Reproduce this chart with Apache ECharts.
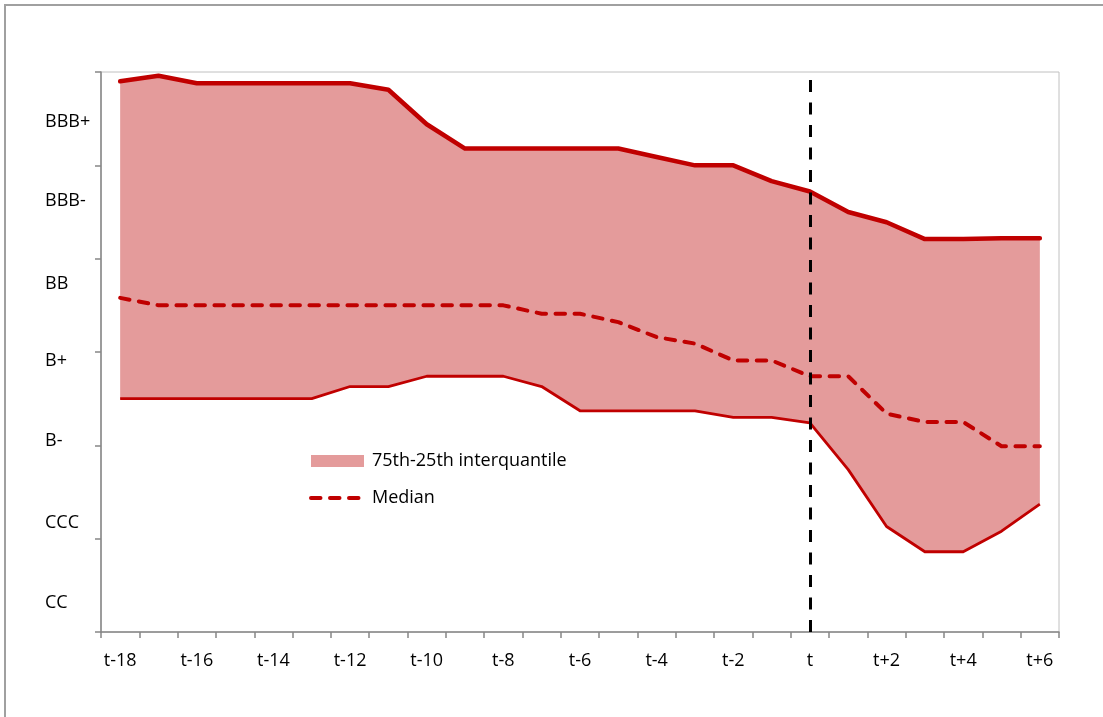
<!DOCTYPE html>
<html>
<head>
<meta charset="utf-8">
<script src="https://cdn.jsdelivr.net/npm/echarts@6/dist/echarts.min.js"></script>
<style>
  html, body { margin: 0; padding: 0; background: #fff; }
  #chart { width: 1103px; height: 717px; }
</style>
</head>
<body>
<div id="chart"></div>
<script>
// periods around the event t
const periods = ['t-18', 't-17', 't-16', 't-15', 't-14', 't-13', 't-12', 't-11', 't-10', 't-9',
  't-8', 't-7', 't-6', 't-5', 't-4', 't-3', 't-2', 't-1', 't', 't+1', 't+2', 't+3', 't+4', 't+5', 't+6']

// rating scale in axis units (0 = bottom, 6 = top tick)
const upperQ = [5.90, 5.96, 5.88, 5.88, 5.88, 5.88, 5.88, 5.81, 5.44, 5.18,
  5.18, 5.18, 5.18, 5.18, 5.09, 5.00, 5.00, 4.83, 4.72, 4.50, 4.39, 4.21, 4.21, 4.22, 4.22]
const medianQ = [3.58, 3.50, 3.50, 3.50, 3.50, 3.50, 3.50, 3.50, 3.50, 3.50,
  3.50, 3.41, 3.41, 3.32, 3.16, 3.09, 2.91, 2.91, 2.74, 2.74, 2.34, 2.25, 2.25, 1.99, 1.99]
const lowerQ = [2.50, 2.50, 2.50, 2.50, 2.50, 2.50, 2.63, 2.63, 2.74, 2.74,
  2.74, 2.63, 2.37, 2.37, 2.37, 2.37, 2.30, 2.30, 2.24, 1.74, 1.13, 0.86, 0.86, 1.08, 1.37]

// rating labels and where they sit on the axis
const ratingLabels = ['BBB+', 'BBB-', 'BB', 'B+', 'B-', 'CCC', 'CC']
const ratingPos = [5.47, 4.62, 3.73, 2.91, 2.05, 1.17, 0.31]

const bandName = '75th-25th interquantile'
const darkRed = '#C00000'
const pink = '#E49B9B'
const fontFamily = '"Open Sans", "Noto Sans", sans-serif'

const chart = echarts.init(document.getElementById('chart'))

const option = {
  animation: false,
  backgroundColor: '#fff',
  textStyle: { fontFamily: fontFamily },
  graphic: [{
    type: 'rect',
    silent: true,
    shape: { x: 5, y: 5, width: 1200, height: 800 },
    style: { fill: 'none', stroke: '#a0a0a0', lineWidth: 2 }
  }],
  grid: {
    left: 101,
    top: 72,
    right: 44,
    bottom: 85,
    show: true,
    borderColor: '#c0c0c0',
    borderWidth: 1,
    backgroundColor: 'transparent'
  },
  legend: {
    left: 309,
    top: 452,
    padding: 0,
    orient: 'vertical',
    itemWidth: 53,
    itemHeight: 12,
    itemGap: 19,
    selectedMode: false,
    textStyle: { fontSize: 18, color: '#000', fontFamily: fontFamily, padding: [0, 0, 0, 3] },
    data: [
      { name: bandName, icon: 'rect', itemStyle: { color: pink, borderWidth: 0 } },
      { name: 'Median', itemStyle: { opacity: 0 }, lineStyle: { width: 4, color: darkRed, cap: 'round' } }
    ]
  },
  xAxis: {
    type: 'category',
    data: periods,
    boundaryGap: true,
    axisLine: { show: true, lineStyle: { color: '#868686', width: 1.5 } },
    axisTick: { show: true, interval: 0, length: 6, lineStyle: { color: '#868686', width: 1.5 } },
    axisLabel: { interval: 1, margin: 20, fontSize: 18, color: '#000', fontFamily: fontFamily },
    splitLine: { show: false }
  },
  yAxis: {
    type: 'value',
    min: 0,
    max: 6,
    interval: 1,
    axisLine: { show: true, lineStyle: { color: '#868686', width: 1.5 } },
    axisTick: { show: true, length: 6, lineStyle: { color: '#868686', width: 1.5 } },
    axisLabel: {
      customValues: ratingPos,
      align: 'left',
      margin: 56,
      fontSize: 18,
      color: '#000',
      fontFamily: fontFamily,
      formatter: (value) => {
        const i = ratingPos.indexOf(value)
        return i >= 0 ? ratingLabels[i] : ''
      }
    },
    splitLine: { show: false }
  },
  series: [
    {
      // invisible base of the band
      name: 'base',
      type: 'line',
      stack: 'band',
      data: lowerQ,
      symbol: 'none',
      silent: true,
      lineStyle: { opacity: 0 }
    },
    {
      // band between 25th and 75th
      name: bandName,
      type: 'line',
      stack: 'band',
      data: upperQ.map((v, i) => +(v - lowerQ[i]).toFixed(4)),
      symbol: 'none',
      silent: true,
      color: pink,
      itemStyle: { color: pink },
      lineStyle: { opacity: 0 },
      areaStyle: { color: pink, opacity: 1 }
    },
    {
      name: '75th',
      type: 'line',
      data: upperQ,
      symbol: 'none',
      silent: true,
      lineStyle: { color: darkRed, width: 4.5, cap: 'round', join: 'round' }
    },
    {
      name: '25th',
      type: 'line',
      data: lowerQ,
      symbol: 'none',
      silent: true,
      lineStyle: { color: darkRed, width: 2.8, join: 'round' }
    },
    {
      name: 'Median',
      type: 'line',
      data: medianQ,
      symbol: 'none',
      silent: true,
      color: darkRed,
      lineStyle: { color: darkRed, width: 4, type: [9.5, 9.5], cap: 'round', join: 'round' },
      markLine: {
        silent: true,
        symbol: 'none',
        label: { show: false },
        lineStyle: { color: '#000', width: 3, type: [12, 10.5] },
        data: [{ xAxis: 't' }]
      }
    }
  ]
}

chart.setOption(option)
</script>
</body>
</html>
